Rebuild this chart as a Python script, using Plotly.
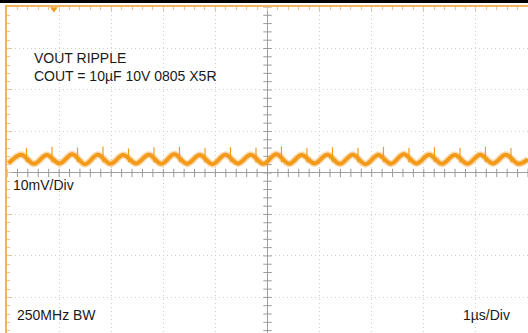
import numpy as np
import plotly.graph_objects as go

# ---- data (time in µs, voltage in mV; screen centre = 0) ----
crest_t = [-4.726, -4.237, -3.747, -3.258, -2.768, -2.279, -1.790, -1.300, -0.811, -0.321,
           0.168, 0.657, 1.147, 1.636, 2.126, 2.615, 3.104, 3.594, 4.083, 4.573]
crest_mv = [4.4, 4.3, 4.5, 4.4, 4.3, 4.4, 4.5, 4.3, 4.4, 4.4,
            4.5, 4.3, 4.4, 4.4, 4.3, 4.5, 4.4, 4.3, 4.4, 4.4]
trough_t = [-4.971, -4.481, -3.992, -3.502, -3.013, -2.523, -2.034, -1.545, -1.055, -0.566,
            -0.076, 0.413, 0.902, 1.392, 1.881, 2.371, 2.860, 3.349, 3.839, 4.328, 4.818]
trough_mv = [2.3, 2.2, 2.3, 2.1, 2.2, 2.3, 2.2, 2.2, 2.1, 2.3,
             2.2, 2.2, 2.3, 2.2, 2.1, 2.2, 2.3, 2.2, 2.2, 2.3, 2.2]
end_t = [5.0]
end_mv = [3.3]
spike_t = [-4.626, -4.137, -3.647, -3.158, -2.668, -2.179, -1.690, -1.200, -0.711, -0.221,
           0.268, 0.757, 1.247, 1.736, 2.226, 2.715, 3.204, 3.694, 4.183, 4.673]
spike_top_mv = [6.0, 6.3, 6.1, 6.4, 5.9, 6.2, 6.3, 6.0, 6.2, 6.1,
                6.4, 6.0, 6.2, 6.1, 6.3, 6.0, 6.2, 6.1, 6.3, 6.0]
spike_bot_mv = [2.6, 2.5, 2.6, 2.5, 2.6, 2.5, 2.6, 2.5, 2.6, 2.5,
                2.6, 2.5, 2.6, 2.5, 2.6, 2.5, 2.6, 2.5, 2.6, 2.5]
ch1_ground_mv = 2.75
trigger_t = -4.10

x_range = [-5, 5]
y_range = [-38.58, 40]

TRACE = "#F39A1B"
BORDER = "#F2B35E"
TXT = "#1a1a1a"
FONT = "Liberation Sans, Arial, sans-serif"

# merge crest / trough samples into one time-ordered series
pts = sorted(list(zip(crest_t, crest_mv)) + list(zip(trough_t, trough_mv)) + list(zip(end_t, end_mv)))
wave_t = [p[0] for p in pts]
wave_mv = [p[1] for p in pts]

sx, sy = [], []
for t, lo, hi in zip(spike_t, spike_bot_mv, spike_top_mv):
    sx += [t, t, None]
    sy += [lo, hi, None]

fig = go.Figure()

# centre-axis tick marks
xt = np.round(np.arange(-5, 5.001, 0.2), 3)
yt = np.round(np.arange(-38, 40.001, 2), 3)
fig.add_trace(go.Scatter(x=xt, y=[0] * len(xt), mode="markers", hoverinfo="skip",
                         marker=dict(symbol="line-ns", size=6, line=dict(width=1, color="#9a9a9a"))))
fig.add_trace(go.Scatter(x=[0] * len(yt), y=yt, mode="markers", hoverinfo="skip",
                         marker=dict(symbol="line-ew", size=6, line=dict(width=1, color="#9a9a9a"))))

# waveform: fuzzy under-band, main band, switching spikes
fig.add_trace(go.Scatter(x=wave_t, y=wave_mv, mode="lines", line=dict(color=TRACE, width=7, shape="spline"),
                         opacity=0.35, hoverinfo="skip"))
fig.add_trace(go.Scatter(x=wave_t, y=wave_mv, mode="lines", line=dict(color=TRACE, width=4, shape="spline"),
                         hoverinfo="skip"))
fig.add_trace(go.Scatter(x=sx, y=sy, mode="lines", line=dict(color=TRACE, width=1.2), hoverinfo="skip"))

# channel-1 ground marker and trigger marker
fig.add_trace(go.Scatter(x=[x_range[0] - 0.06], y=[ch1_ground_mv], mode="markers+text", text=["1"],
                         textposition="middle center", textfont=dict(size=6, color="#333", family=FONT),
                         marker=dict(symbol="circle", size=9, color=TRACE), cliponaxis=False, hoverinfo="skip"))
fig.add_trace(go.Scatter(x=[trigger_t], y=[y_range[1] - 0.5], mode="markers",
                         marker=dict(symbol="triangle-down", size=7, color=TRACE), cliponaxis=False,
                         hoverinfo="skip"))

W, H = 528, 333
ml, mr, mt, mb = 7, 0, 7, 0
pw, ph = W - ml - mr, H - mt - mb


def px(x):
    return (x - ml) / pw


def py(y):
    return 1 - (y - mt) / ph


annots = [
    ("VOUT RIPPLE", 32, 58.5),
    ("COUT = 10µF 10V 0805 X5R", 32, 75.5),
    ("10mV/Div", 11, 185.5),
    ("250MHz BW", 15, 314.5),
    ("1µs/Div", 461, 314.5),
]
for text, x, y in annots:
    fig.add_annotation(text=text, xref="paper", yref="paper", x=px(x), y=py(y), xanchor="left",
                       yanchor="middle", showarrow=False, font=dict(family=FONT, size=14, color=TXT))

# black strip at the very top of the screenshot
fig.add_shape(type="rect", xref="paper", yref="paper", x0=-0.02, x1=1.01, y0=1 + 4 / ph, y1=1 + 8 / ph,
              fillcolor="black", line=dict(width=0), layer="above")

fig.update_layout(
    width=W, height=H, margin=dict(l=ml, r=mr, t=mt, b=mb, autoexpand=False),
    paper_bgcolor="white", plot_bgcolor="white", showlegend=False,
    xaxis=dict(range=x_range, side="top", showline=True, linecolor=BORDER, linewidth=2,
               showgrid=True, gridcolor="#cdcdcd", griddash="1px,3px", gridwidth=1,
               tick0=0, dtick=1, ticks="inside", ticklen=4, tickcolor="#e6c690", showticklabels=False,
               minor=dict(dtick=0.2, ticks="inside", ticklen=3, tickcolor="#e6c690", showgrid=False),
               zeroline=True, zerolinecolor="#a0a0a0", zerolinewidth=1, fixedrange=True,
               automargin=False),
    yaxis=dict(range=y_range, side="left", showline=True, linecolor=BORDER, linewidth=2,
               showgrid=True, gridcolor="#cdcdcd", griddash="1px,3px", gridwidth=1,
               tick0=0, dtick=10, ticks="inside", ticklen=4, tickcolor="#e6c690", showticklabels=False,
               minor=dict(dtick=2, ticks="inside", ticklen=3, tickcolor="#e6c690", showgrid=False),
               zeroline=True, zerolinecolor="#a0a0a0", zerolinewidth=1, fixedrange=True,
               automargin=False),
)

fig.write_html("out.html", config={"displayModeBar": False},
               post_script="document.body.style.margin='0';document.body.style.overflow='hidden';")
